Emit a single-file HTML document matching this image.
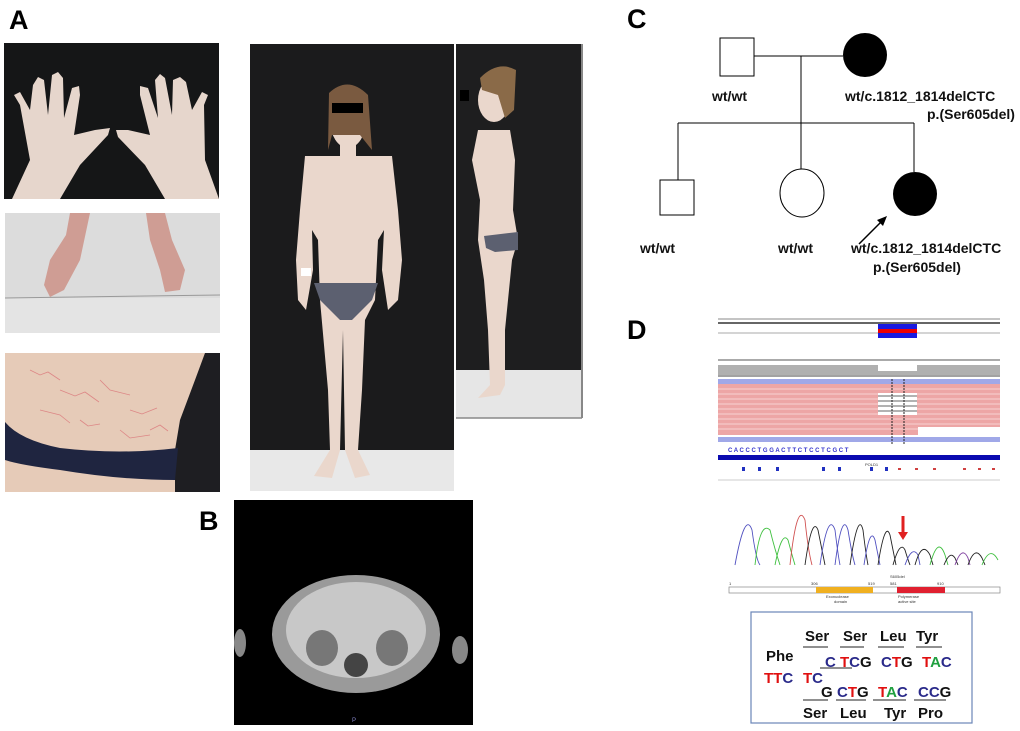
<!DOCTYPE html>
<html><head><meta charset="utf-8"><style>
body{margin:0;background:#fff;width:1020px;height:731px;overflow:hidden}
svg{display:block}
text{font-family:"Liberation Sans",Arial,sans-serif}
</style></head><body>
<svg width="1020" height="731" viewBox="0 0 1020 731" xmlns="http://www.w3.org/2000/svg">
<!-- Labels -->
<text x="9" y="29" font-size="27" font-weight="bold">A</text>
<text x="199" y="530" font-size="27" font-weight="bold">B</text>
<text x="627" y="28" font-size="27" font-weight="bold">C</text>
<text x="627" y="339" font-size="27" font-weight="bold">D</text>

<!-- Hands photo -->
<rect x="4" y="43" width="215" height="156" fill="#151617"/>
<g fill="#e6d6cc">
<path d="M12 199 L30 160 L20 105 L14 95 L20 92 L30 110 L33 85 L38 77 L44 80 L48 115 L52 75 L58 72 L63 78 L64 118 L72 88 L79 86 L80 95 L74 135 L95 130 L110 128 L108 135 L80 165 L60 199Z"/>
<path d="M219 199 L205 160 L204 105 L208 95 L202 92 L192 110 L186 82 L180 77 L173 80 L172 115 L165 78 L160 74 L155 80 L158 118 L148 88 L140 86 L140 95 L150 135 L128 130 L116 130 L118 137 L145 165 L165 199Z"/>
</g>
<!-- Feet photo -->
<rect x="5" y="213" width="215" height="120" fill="#dcdcdc"/>
<rect x="5" y="298" width="215" height="35" fill="#e4e4e4"/>
<line x1="5" y1="298" x2="220" y2="295" stroke="#999" stroke-width="1"/>
<path d="M70 213 L90 213 L80 260 L64 290 L50 297 L44 285 L50 260 L66 235Z" fill="#cf9d94"/>
<path d="M146 213 L165 213 L172 240 L185 270 L180 290 L165 292 L160 270 L150 240Z" fill="#cf9d94"/>
<!-- Abdomen photo -->
<rect x="5" y="353" width="215" height="139" fill="#1e1e22"/>
<path d="M5 353 L205 353 L195 380 L180 420 L175 450 L175 492 L5 492Z" fill="#e6cbb8"/>
<path d="M5 420 Q60 450 175 450 L175 480 Q100 470 5 450Z" fill="#2a3048" opacity="0"/>
<path d="M5 422 Q20 440 60 448 Q120 455 178 448 L175 480 Q120 480 60 470 Q20 465 5 460Z" fill="#1f2540"/>
<g stroke="#d86a70" stroke-width="0.8" fill="none" opacity="0.7">
<path d="M30 370 l10 5 l8 -3 l12 8 M60 390 l15 6 l10 -4 l14 10 M100 380 l10 10 l20 5 M130 410 l12 4 l15 -6 M40 410 l20 5 l10 8 M150 430 l10 -5 l8 6 M120 430 l10 8 l20 -3 M80 420 l8 6 l12 -2"/>
</g>

<!-- Front body photo -->
<rect x="250" y="44" width="204" height="447" fill="#1b1b1c"/>
<rect x="250" y="450" width="204" height="41" fill="#e8e8e8"/>
<g fill="#ead7cc">
<ellipse cx="348" cy="120" rx="18" ry="28"/>
<rect x="340" y="140" width="16" height="18"/>
<path d="M305 156 L392 156 L398 210 L402 260 L398 300 L388 310 L382 270 L384 230 L378 240 L375 300 L365 320 L362 390 L358 450 L370 475 L355 478 L345 450 L343 330 L340 450 L332 478 L314 476 L330 450 L328 390 L320 300 L318 240 L312 230 L313 270 L306 310 L298 300 L296 260 L300 210Z"/>
</g>
<path d="M329 93 Q348 75 368 95 L372 150 L360 135 L332 135 L328 150Z" fill="#7a5a40"/>
<rect x="332" y="103" width="31" height="10" fill="#000"/>
<path d="M314 283 L378 283 L372 300 L352 320 L340 320 L320 300Z" fill="#5c6070"/>
<rect x="301" y="268" width="10" height="8" fill="#fff"/>

<!-- Side photo -->
<rect x="456" y="44" width="126" height="374" fill="#1e1e1f"/>
<rect x="456" y="370" width="126" height="48" fill="#e6e6e6"/>
<line x1="582" y1="44" x2="582" y2="418" stroke="#888" stroke-width="2"/>
<line x1="456" y1="418" x2="582" y2="418" stroke="#888" stroke-width="1.5"/>
<g fill="#ead7cc">
<ellipse cx="494" cy="100" rx="16" ry="22"/>
<path d="M478 130 L510 130 L515 160 L513 210 L518 240 L512 260 L505 330 L505 385 L500 395 L478 398 L490 385 L488 330 L484 280 L478 240 L480 200 L472 160Z"/>
</g>
<path d="M480 78 Q498 60 516 70 L514 110 L505 118 L498 95 L482 90Z" fill="#8a6a48"/>
<rect x="460" y="90" width="9" height="11" fill="#000"/>
<path d="M484 236 L518 232 L518 250 L495 252 L486 248Z" fill="#5c6070"/>

<!-- MRI -->
<rect x="234" y="500" width="239" height="225" fill="#000"/>
<ellipse cx="356" cy="634" rx="84" ry="59" fill="#9a9a9a"/>
<ellipse cx="356" cy="630" rx="70" ry="48" fill="#c8c8c8"/>
<ellipse cx="322" cy="648" rx="16" ry="18" fill="#777"/>
<ellipse cx="392" cy="648" rx="16" ry="18" fill="#777"/>
<ellipse cx="356" cy="665" rx="12" ry="12" fill="#444"/>
<ellipse cx="240" cy="643" rx="6" ry="14" fill="#888"/>
<ellipse cx="460" cy="650" rx="8" ry="14" fill="#888"/>
<text x="352" y="722" font-size="6" fill="#8888cc">P</text>

<!-- Pedigree -->
<g stroke="#000" stroke-width="1" fill="none">
<rect x="720" y="38" width="34" height="38" fill="#fff"/>
<line x1="754" y1="56" x2="843" y2="56"/>
<line x1="801" y1="56" x2="801" y2="173"/>
<line x1="678" y1="123" x2="914" y2="123"/>
<line x1="678" y1="123" x2="678" y2="180"/>
<line x1="914" y1="123" x2="914" y2="172"/>
<rect x="660" y="180" width="34" height="35" fill="#fff"/>
<ellipse cx="802" cy="193" rx="22" ry="24" fill="#fff"/>
</g>
<circle cx="865" cy="55" r="22" fill="#000"/>
<circle cx="915" cy="194" r="22" fill="#000"/>
<line x1="859" y1="244" x2="884" y2="219" stroke="#000" stroke-width="1.5"/>
<polygon points="887,216 877,220 883,226" fill="#000"/>
<g font-size="14" font-weight="bold" fill="#111">
<text x="712" y="101">wt/wt</text>
<text x="845" y="101">wt/c.1812_1814delCTC</text>
<text x="927" y="119">p.(Ser605del)</text>
<text x="640" y="253">wt/wt</text>
<text x="778" y="253">wt/wt</text>
<text x="851" y="253">wt/c.1812_1814delCTC</text>
<text x="873" y="272">p.(Ser605del)</text>
</g>

<!-- IGV -->
<g>
<line x1="718" y1="319" x2="1000" y2="319" stroke="#888"/>
<line x1="718" y1="323" x2="1000" y2="323" stroke="#666" stroke-width="2"/>
<line x1="718" y1="333" x2="1000" y2="333" stroke="#aaa"/>
<rect x="878" y="324" width="39" height="14" fill="#1a1ae0"/>
<rect x="878" y="329" width="39" height="4" fill="#e00"/>
<line x1="718" y1="360" x2="1000" y2="360" stroke="#aaa" stroke-width="2"/>
<rect x="718" y="365" width="282" height="10" fill="#b0b0b0"/>
<rect x="878" y="365" width="39" height="10" fill="#fff"/>
<rect x="878" y="371" width="39" height="4" fill="#b0b0b0"/>
<line x1="718" y1="376" x2="1000" y2="376" stroke="#444"/>
<rect x="718" y="379" width="282" height="5" fill="#a0a8e8"/>
<rect x="718" y="384" width="282" height="51" fill="#eda6a6"/>
<g stroke="#fff" stroke-width="0.6">
<line x1="718" y1="389" x2="1000" y2="389"/><line x1="718" y1="394" x2="1000" y2="394"/><line x1="718" y1="399" x2="1000" y2="399"/><line x1="718" y1="404" x2="1000" y2="404"/><line x1="718" y1="409" x2="1000" y2="409"/><line x1="718" y1="414" x2="1000" y2="414"/><line x1="718" y1="419" x2="1000" y2="419"/><line x1="718" y1="424" x2="1000" y2="424"/><line x1="718" y1="429" x2="1000" y2="429"/>
</g>
<rect x="878" y="393" width="39" height="22" fill="#fff"/>
<g stroke="#333" stroke-width="0.8"><line x1="878" y1="396" x2="917" y2="396"/><line x1="878" y1="401" x2="917" y2="401"/><line x1="878" y1="406" x2="917" y2="406"/><line x1="878" y1="411" x2="917" y2="411"/></g>
<rect x="918" y="427" width="82" height="8" fill="#fff"/>
<rect x="718" y="437" width="282" height="5" fill="#a0a8e8"/>
<line x1="892" y1="379" x2="892" y2="445" stroke="#222" stroke-dasharray="2,1"/>
<line x1="904" y1="379" x2="904" y2="445" stroke="#222" stroke-dasharray="2,1"/>
<g font-size="6" font-weight="bold" fill="#33c">
<text x="728" y="452">C A C C C T G G A C T T C T C C T C G C T</text>
</g>
<rect x="718" y="455" width="282" height="5" fill="#0a0ab0"/>
<text x="865" y="466" font-size="4" fill="#333">POLD1</text>
<g fill="#2030c0"><rect x="742" y="467" width="3" height="4"/><rect x="758" y="467" width="3" height="4"/><rect x="776" y="467" width="3" height="4"/><rect x="822" y="467" width="3" height="4"/><rect x="838" y="467" width="3" height="4"/><rect x="870" y="467" width="3" height="4"/><rect x="885" y="467" width="3" height="4"/></g>
<g fill="#d04040"><rect x="898" y="468" width="3" height="2"/><rect x="915" y="468" width="3" height="2"/><rect x="933" y="468" width="3" height="2"/><rect x="963" y="468" width="3" height="2"/><rect x="978" y="468" width="3" height="2"/><rect x="992" y="468" width="3" height="2"/></g>
<line x1="718" y1="480" x2="1000" y2="480" stroke="#ccc"/>
</g>

<!-- Chromatogram -->
<g fill="none" stroke-width="0.9">
<path d="M735 565 Q745 510 752 530 Q756 560 760 565" stroke="#5050c0"/>
<path d="M755 565 Q760 520 770 530 Q775 550 780 565" stroke="#40c040"/>
<path d="M775 565 Q782 530 788 540 Q792 555 795 565" stroke="#40c040"/>
<path d="M790 565 Q797 500 805 520 Q808 550 812 565" stroke="#d05050"/>
<path d="M805 565 Q812 515 818 530 Q822 550 825 565" stroke="#222"/>
<path d="M820 565 Q828 510 835 530 Q838 555 840 565" stroke="#5050c0"/>
<path d="M835 565 Q842 510 848 530 Q852 555 855 565" stroke="#5050c0"/>
<path d="M850 565 Q858 510 863 530 Q866 555 868 565" stroke="#222"/>
<path d="M864 565 Q870 525 875 540 Q878 555 880 565" stroke="#5050c0"/>
<path d="M878 565 Q885 520 890 535 Q894 555 896 565" stroke="#222"/>
<path d="M893 565 Q900 540 905 550 Q908 560 910 565" stroke="#222"/>
<path d="M905 565 Q912 545 918 555 L920 565" stroke="#5050c0"/>
<path d="M915 565 Q922 540 930 555 L933 565" stroke="#222"/>
<path d="M930 565 Q938 535 945 555 L948 565" stroke="#40c040"/>
<path d="M944 565 Q950 550 955 558 L958 565" stroke="#222"/>
<path d="M955 565 Q962 545 968 558 L970 565" stroke="#8040a0"/>
<path d="M968 565 Q975 545 982 558 L985 565" stroke="#222"/>
<path d="M982 565 Q990 545 998 560" stroke="#40c040"/>
</g>
<line x1="903" y1="516" x2="903" y2="533" stroke="#e02020" stroke-width="3"/>
<polygon points="898,532 908,532 903,540" fill="#e02020"/>
<!-- Domain bar -->
<rect x="729" y="587" width="271" height="6" fill="#fff" stroke="#888" stroke-width="0.7"/>
<rect x="816" y="587" width="57" height="6" fill="#f0b020"/>
<rect x="897" y="587" width="48" height="6" fill="#e02030"/>
<g font-size="4" fill="#333">
<text x="729" y="585">1</text><text x="811" y="585">306</text><text x="868" y="585">519</text><text x="890" y="585">581</text><text x="937" y="585">910</text><text x="890" y="578">S605del</text>
<text x="826" y="598">Exonuclease</text><text x="898" y="598">Polymerase</text>
<text x="834" y="603">domain</text><text x="898" y="603">active site</text>
</g>

<!-- Codon box -->
<rect x="751" y="612" width="221" height="111" fill="#fff" stroke="#6a86b8" stroke-width="1.2"/>
<g font-size="15" font-weight="bold">
<text x="805" y="641" fill="#111">Ser</text>
<text x="843" y="641" fill="#111">Ser</text>
<text x="880" y="641" fill="#111">Leu</text>
<text x="916" y="641" fill="#111">Tyr</text>
<text x="766" y="661" fill="#111">Phe</text>
<text x="825" y="667"><tspan fill="#2a2a8a">C </tspan><tspan fill="#e01010">T</tspan><tspan fill="#2a2a8a">C</tspan><tspan fill="#111">G</tspan></text>
<text x="881" y="667"><tspan fill="#2a2a8a">C</tspan><tspan fill="#e01010">T</tspan><tspan fill="#111">G</tspan></text>
<text x="922" y="667"><tspan fill="#e01010">T</tspan><tspan fill="#20a040">A</tspan><tspan fill="#2a2a8a">C</tspan></text>
<text x="764" y="683"><tspan fill="#e01010">TT</tspan><tspan fill="#2a2a8a">C</tspan></text>
<text x="803" y="683"><tspan fill="#e01010">T</tspan><tspan fill="#2a2a8a">C</tspan></text>
<text x="821" y="697" fill="#111">G</text>
<text x="837" y="697"><tspan fill="#2a2a8a">C</tspan><tspan fill="#e01010">T</tspan><tspan fill="#111">G</tspan></text>
<text x="878" y="697"><tspan fill="#e01010">T</tspan><tspan fill="#20a040">A</tspan><tspan fill="#2a2a8a">C</tspan></text>
<text x="918" y="697"><tspan fill="#2a2a8a">CC</tspan><tspan fill="#111">G</tspan></text>
<text x="803" y="718" fill="#111">Ser</text>
<text x="840" y="718" fill="#111">Leu</text>
<text x="884" y="718" fill="#111">Tyr</text>
<text x="918" y="718" fill="#111">Pro</text>
</g>
<g stroke="#222" stroke-width="1">
<line x1="803" y1="647" x2="828" y2="647"/><line x1="840" y1="647" x2="864" y2="647"/><line x1="878" y1="647" x2="904" y2="647"/><line x1="916" y1="647" x2="942" y2="647"/>
<line x1="820" y1="668" x2="852" y2="668"/>
<line x1="803" y1="700" x2="828" y2="700"/><line x1="836" y1="700" x2="866" y2="700"/><line x1="873" y1="700" x2="906" y2="700"/><line x1="914" y1="700" x2="946" y2="700"/>
</g>
</svg>
</body></html>
